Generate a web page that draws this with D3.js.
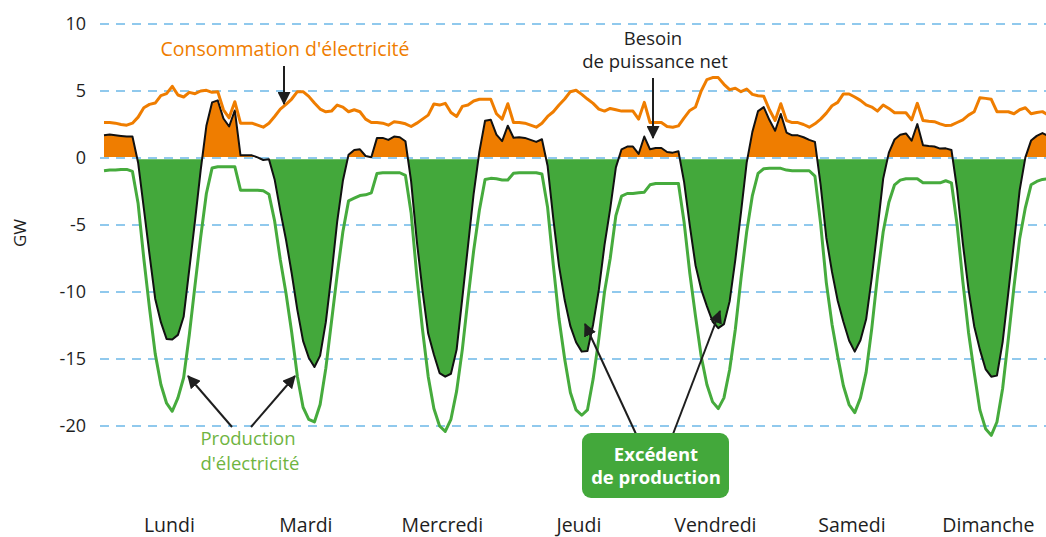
<!DOCTYPE html>
<html>
<head>
<meta charset="utf-8">
<script src="https://cdn.jsdelivr.net/npm/d3@7"></script>
<style>
  body { margin: 0; background: #fff; }
  svg { display: block; }
  text { font-family: "Open Sans", "Noto Sans", sans-serif; }
</style>
</head>
<body>
<svg id="chart" width="1046" height="537"></svg>
<script>
// Jours de la semaine (un point par heure, 24 par jour)
const jours = ["Lundi", "Mardi", "Mercredi", "Jeudi", "Vendredi", "Samedi", "Dimanche"];

// Consommation d'électricité (GW), horaire
const consommation = [
  2.65, 2.65, 2.6, 2.5, 2.45, 2.6, 3.05, 3.75, 4.0, 4.1, 4.65, 4.8, 5.35, 4.7, 4.55, 4.9, 4.8, 5.0, 5.05, 4.9, 4.95, 3.6, 3.0, 4.2,
  2.6, 2.6, 2.6, 2.45, 2.3, 2.6, 3.1, 3.65, 4.0, 4.4, 4.95, 4.95, 4.6, 4.1, 3.65, 3.45, 3.5, 3.95, 3.8, 3.45, 3.6, 3.45, 2.9, 2.65,
  2.65, 2.6, 2.45, 2.7, 2.65, 2.55, 2.35, 2.6, 2.9, 3.2, 4.03, 3.95, 4.08, 3.4, 3.1, 3.85, 3.95, 4.25, 4.38, 4.38, 4.38, 3.3, 2.9, 4.05,
  2.65, 2.65, 2.6, 2.45, 2.3, 2.6, 3.1, 3.45, 3.95, 4.4, 4.95, 5.05, 4.75, 4.4, 4.08, 3.65, 3.5, 3.7, 3.6, 3.5, 3.5, 3.5, 2.9, 4.15,
  2.65, 2.65, 2.65, 2.35, 2.3, 2.4, 3.0, 3.55, 3.8, 5.0, 5.85, 6.0, 6.0, 5.5, 5.1, 5.2, 4.95, 5.15, 4.75, 4.65, 4.6, 3.6, 2.8, 4.05,
  2.8, 2.64, 2.64, 2.5, 2.3, 2.55, 2.9, 3.35, 3.9, 4.15, 4.78, 4.78, 4.55, 4.3, 3.96, 3.8, 3.5, 3.96, 3.7, 3.38, 3.38, 3.38, 2.84, 4.08,
  2.8, 2.75, 2.71, 2.55, 2.42, 2.45, 2.65, 2.85, 3.2, 3.45, 4.5, 4.45, 4.38, 3.46, 3.46, 3.45, 3.3, 3.6, 3.75, 3.3, 3.4, 3.46, 3.2, 3.2
];

// Production d'électricité (GW, comptée en négatif), horaire
const production = [
  -0.95, -0.9, -0.9, -0.85, -0.85, -1.0, -3.4, -7.5, -11.2, -14.6, -16.9, -18.3, -18.9, -17.9, -16.4, -13.2, -9.5, -5.9, -2.65, -0.75, -0.65, -0.65, -0.65, -0.65,
  -2.4, -2.4, -2.4, -2.4, -2.45, -2.7, -4.7, -7.6, -10.1, -13.0, -16.3, -18.6, -19.5, -19.7, -18.4, -15.7, -12.2, -8.7, -5.5, -3.2, -3.0, -2.8, -2.75, -2.6,
  -1.15, -1.1, -1.1, -1.1, -1.1, -1.3, -4.1, -8.8, -12.8, -16.3, -18.7, -20.0, -20.4, -19.5, -17.4, -14.3, -10.5, -6.9, -3.9, -1.6, -1.52, -1.55, -1.64, -1.64,
  -1.14, -1.1, -1.1, -1.1, -1.1, -1.2, -3.7, -8.0, -12.0, -15.0, -17.5, -18.8, -19.2, -18.8, -16.5, -13.5, -10.0, -7.5, -4.3, -2.85, -2.65, -2.65, -2.6, -2.55,
  -2.0, -1.9, -1.9, -1.9, -1.9, -1.9, -4.8, -8.6, -11.8, -14.8, -16.9, -18.2, -18.7, -17.9, -15.8, -12.8, -9.0, -5.5, -2.8, -1.15, -0.8, -0.77, -0.77, -0.77,
  -0.9, -0.95, -0.95, -0.95, -0.95, -1.35, -4.9, -9.3, -12.4, -14.8, -17.0, -18.4, -19.0, -17.9, -16.0, -12.7, -8.8, -5.5, -3.3, -2.0, -1.65, -1.55, -1.55, -1.55,
  -1.85, -1.85, -1.85, -1.85, -1.7, -1.85, -5.0, -9.2, -13.0, -16.0, -18.8, -20.2, -20.7, -19.7, -17.2, -13.5, -9.6, -6.0, -3.7, -2.0, -1.75, -1.6, -1.55, -1.5
];

// Graduations de l'axe vertical (GW)
const yTicks = [10, 5, 0, -5, -10, -15, -20];

const W = 1046, H = 537;
const ORANGE = "#ef7d00", VERT = "#43a83b", VERT_TEXTE = "#6fb43f", GRILLE = "#6cb8e8", ENCRE = "#1e1e1e";

const heures = consommation.map((_, i) => i);
const x = d3.scaleLinear().domain([0, 167]).range([104, 104 + 167 * 5.6875]);
const y = d3.scaleLinear().domain([-20, 10]).range([426, 24]);

// Besoin de puissance net = consommation + production
const besoin = consommation.map((c, i) => c + production[i]);

const svg = d3.select("#chart");

const defs = svg.append("defs");
defs.append("clipPath").attr("id", "zone")
  .append("rect").attr("x", 100).attr("y", 0).attr("width", W - 100).attr("height", H);
defs.append("marker")
  .attr("id", "fleche").attr("viewBox", "0 0 12 12")
  .attr("refX", 11).attr("refY", 6)
  .attr("markerWidth", 13).attr("markerHeight", 13)
  .attr("markerUnits", "userSpaceOnUse").attr("orient", "auto")
  .append("path").attr("d", "M0,0 L12,6 L0,12 Z").attr("fill", ENCRE);

// Grille horizontale en pointillés
svg.append("g").selectAll("line").data(yTicks).join("line")
  .attr("x1", 100).attr("x2", W)
  .attr("y1", d => y(d)).attr("y2", d => y(d))
  .attr("stroke", GRILLE).attr("stroke-width", 1.6)
  .attr("stroke-dasharray", "9,7");

// Étiquettes de l'axe vertical
svg.append("g").selectAll("text").data(yTicks).join("text")
  .attr("x", 86).attr("y", d => y(d)).attr("dy", "0.35em")
  .attr("text-anchor", "end").attr("font-size", 18).attr("fill", ENCRE)
  .text(d => d);

svg.append("text")
  .attr("transform", "translate(26,233) rotate(-90)")
  .attr("text-anchor", "middle").attr("font-size", 17).attr("fill", ENCRE)
  .text("GW");

// Jours
svg.append("g").selectAll("text").data(jours).join("text")
  .attr("x", (d, i) => x(i * 24 + 11.5)).attr("y", 532)
  .attr("text-anchor", "middle").attr("font-size", 19.5).attr("fill", ENCRE)
  .text(d => d);

// Points avec passages par zéro, pour des aires nettes
const pts = [];
besoin.forEach((v, i) => {
  if (i > 0) {
    const p = besoin[i - 1];
    if ((p > 0 && v < 0) || (p < 0 && v > 0)) {
      pts.push({ h: i - 1 + p / (p - v), v: 0 });
    }
  }
  pts.push({ h: i, v });
});

const plot = svg.append("g").attr("clip-path", "url(#zone)");
const y0 = y(0);

plot.append("path").datum(pts)
  .attr("fill", ORANGE)
  .attr("d", d3.area().x(d => x(d.h)).y0(y0 - 1)
    .y1(d => Math.min(y(Math.max(d.v, 0)), y0 - 1)));

plot.append("path").datum(pts)
  .attr("fill", VERT)
  .attr("d", d3.area().x(d => x(d.h)).y0(y0 + 1.2)
    .y1(d => Math.max(y(Math.min(d.v, 0)), y0 + 1.2)));

const ligne = serie => d3.line().x(i => x(i)).y(i => y(serie[i]));

plot.append("path").datum(heures)
  .attr("fill", "none").attr("stroke", "#46ab3d").attr("stroke-width", 3)
  .attr("stroke-linejoin", "round").attr("d", ligne(production));

plot.append("path").datum(heures)
  .attr("fill", "none").attr("stroke", "#111").attr("stroke-width", 2)
  .attr("stroke-linejoin", "round").attr("d", ligne(besoin));

plot.append("path").datum(heures)
  .attr("fill", "none").attr("stroke", ORANGE).attr("stroke-width", 3)
  .attr("stroke-linejoin", "round").attr("d", ligne(consommation));

// Annotations
const fleches = [
  [284, 66, 284, 104],
  [653, 78, 653, 138],
  [232, 427, 188, 376],
  [251, 427, 295, 376],
  [636, 434, 585, 324],
  [673, 434, 720, 311]
];
svg.append("g").selectAll("line").data(fleches).join("line")
  .attr("x1", d => d[0]).attr("y1", d => d[1])
  .attr("x2", d => d[2]).attr("y2", d => d[3])
  .attr("stroke", ENCRE).attr("stroke-width", 2)
  .attr("marker-end", "url(#fleche)");

svg.append("text").attr("x", 285).attr("y", 56)
  .attr("text-anchor", "middle").attr("font-size", 19.5).attr("fill", ORANGE)
  .text("Consommation d'électricité");

const besoinTxt = svg.append("text").attr("text-anchor", "middle")
  .attr("font-size", 18.5).attr("fill", ENCRE);
besoinTxt.append("tspan").attr("x", 653).attr("y", 45).text("Besoin");
besoinTxt.append("tspan").attr("x", 655).attr("y", 68).text("de puissance net");

const prodTxt = svg.append("text").attr("text-anchor", "middle")
  .attr("font-size", 18.5).attr("fill", VERT_TEXTE);
prodTxt.append("tspan").attr("x", 248).attr("y", 445).text("Production");
prodTxt.append("tspan").attr("x", 250).attr("y", 470).text("d'électricité");

svg.append("rect").attr("x", 582).attr("y", 433).attr("width", 147).attr("height", 65)
  .attr("rx", 9).attr("fill", VERT);
const excTxt = svg.append("text").attr("text-anchor", "middle")
  .attr("font-size", 18.5).attr("font-weight", "bold").attr("fill", "#fff");
excTxt.append("tspan").attr("x", 656).attr("y", 461).text("Excédent");
excTxt.append("tspan").attr("x", 656).attr("y", 484).text("de production");
</script>
</body>
</html>
